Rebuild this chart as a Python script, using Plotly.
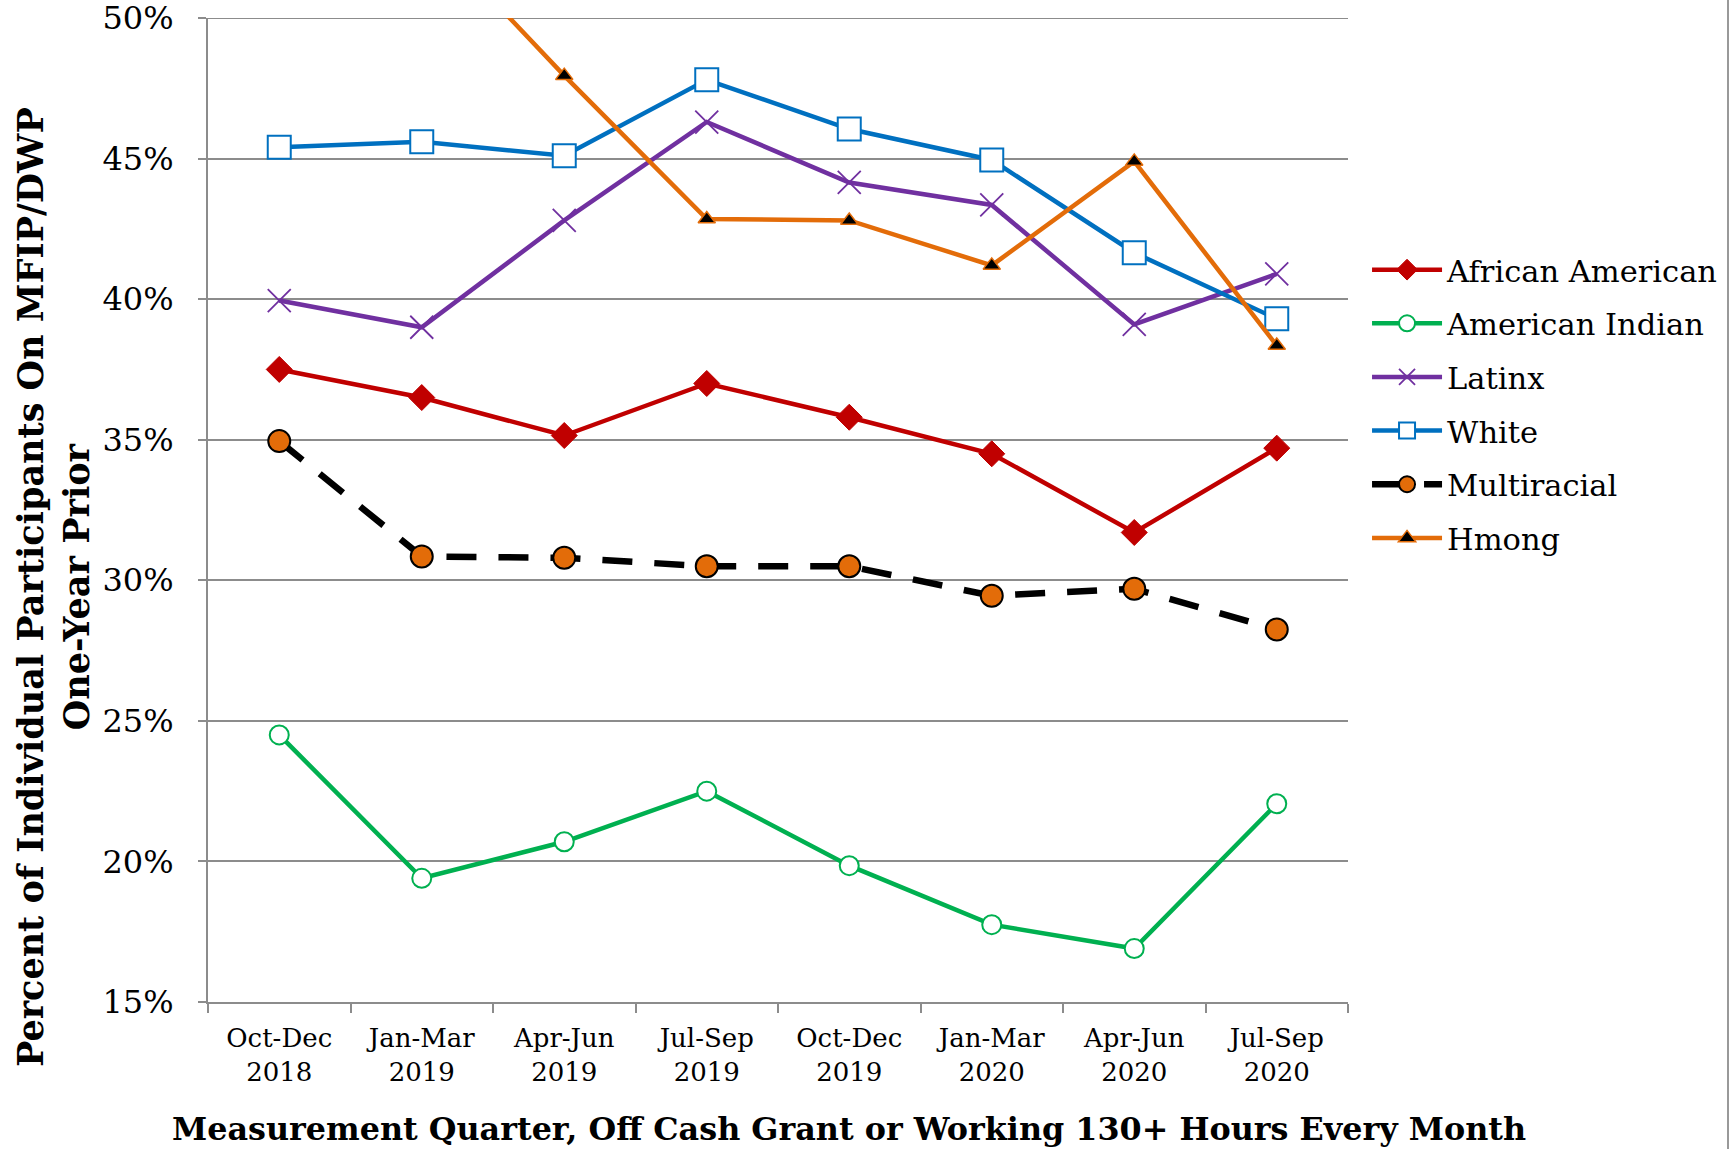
import plotly.graph_objects as go

quarters = ["Oct-Dec<br>2018", "Jan-Mar<br>2019", "Apr-Jun<br>2019", "Jul-Sep<br>2019",
            "Oct-Dec<br>2019", "Jan-Mar<br>2020", "Apr-Jun<br>2020", "Jul-Sep<br>2020"]

african_american = [37.5, 36.5, 35.15, 37.0, 35.8, 34.5, 31.7, 34.7]
american_indian = [24.5, 19.4, 20.7, 22.5, 19.85, 17.75, 16.9, 22.05]
latinx = [39.95, 39.0, 42.8, 46.3, 44.15, 43.35, 39.1, 40.9]
white = [45.4, 45.6, 45.1, 47.8, 46.05, 44.95, 41.65, 39.3]
multiracial = [34.95, 30.85, 30.8, 30.5, 30.5, 29.45, 29.7, 28.25]
hmong = [54.5, 53.3, 47.95, 42.85, 42.8, 41.2, 44.9, 38.35]

FONT = "Georgia, DejaVu Serif, serif"
GRID = "#8c8c8c"

W, H = 1733, 1149
PL, PT, PR, PB = 208, 18, 385, 147
PW, PH = W - PL - PR, H - PT - PB

fig = go.Figure()

def add(name, y, line, marker):
    fig.add_trace(go.Scatter(x=quarters, y=y, name=name, mode="lines+markers",
                             line=line, marker=marker, legendgroup=name))

add("African American", african_american,
    dict(color="#C00000", width=4.5),
    dict(symbol="diamond", size=20, color="#C00000", line=dict(color="#C00000", width=1)))
add("American Indian", american_indian,
    dict(color="#00B050", width=4.5),
    dict(symbol="circle", size=19, color="white", line=dict(color="#00B050", width=2)))
add("Latinx", latinx,
    dict(color="#7030A0", width=4.5),
    dict(symbol="x-thin", size=23, color="#7030A0", line=dict(color="#7030A0", width=1.8)))
add("White", white,
    dict(color="#0070C0", width=4.5),
    dict(symbol="square", size=23, color="white", line=dict(color="#0070C0", width=2)))
add("Multiracial", multiracial,
    dict(color="black", width=6.5, dash="30px,22px"),
    dict(symbol="circle", size=22, color="#E36C09", line=dict(color="black", width=2)))
add("Hmong", hmong,
    dict(color="#E36C09", width=4.5),
    dict(symbol="triangle-up", size=15, color="black", line=dict(color="#E36C09", width=1.5)))

fig.update_layout(
    width=W, height=H,
    margin=dict(l=PL, r=PR, t=PT, b=PB, autoexpand=False),
    paper_bgcolor="white", plot_bgcolor="white",
    font=dict(family=FONT, color="black"),
    showlegend=True,
    legend=dict(x=1.0167, xanchor="left", y=0.771, yanchor="top",
                font=dict(family=FONT, size=30.5, color="black"),
                itemwidth=70,
                tracegroupgap=11, bgcolor="rgba(0,0,0,0)"),
    xaxis=dict(type="category", showgrid=False, showline=True, linecolor=GRID, linewidth=2,
               ticks="outside", tickson="boundaries", ticklen=9, tickcolor=GRID, tickwidth=2,
               tickfont=dict(family=FONT, size=26, color="black"), ticklabelstandoff=12,
               range=[-0.5, 7.5], automargin=False, ticklabeloverflow="allow"),
    yaxis=dict(range=[15, 50], dtick=5, ticksuffix="%", showgrid=True, gridcolor=GRID, gridwidth=2,
               showline=True, linecolor=GRID, linewidth=2, ticks="outside", ticklen=8,
               tickcolor=GRID, tickwidth=2, zeroline=False, automargin=False,
               ticklabeloverflow="allow",
               tickfont=dict(family=FONT, size=32, color="black"), ticklabelstandoff=18),
    annotations=[
        dict(text="Percent of Individual Participants On MFIP/DWP<br>One-Year Prior",
             xref="paper", yref="paper", x=(53 - PL) / PW, y=(H - PB - 587) / PH,
             xanchor="center", yanchor="middle",
             textangle=-90, showarrow=False,
             font=dict(family=FONT, size=35, color="black", weight="bold")),
        dict(text="Measurement Quarter, Off Cash Grant or Working 130+ Hours Every Month",
             xref="paper", yref="paper", x=(849 - PL) / PW, y=(H - PB - 1128) / PH,
             xanchor="center", yanchor="middle",
             showarrow=False,
             font=dict(family=FONT, size=31.8, color="black", weight="bold")),
    ],
    shapes=[
        dict(type="line", xref="paper", yref="y", x0=0, x1=1, y0=50, y1=50, layer="below",
             line=dict(color=GRID, width=2)),
        dict(type="line", xref="paper", yref="paper",
             x0=(1728 - PL) / PW, x1=(1728 - PL) / PW, y0=-0.16, y1=1.02,
             line=dict(color="#999999", width=2)),
    ],
)

fig.write_html("out.html", config={"displayModeBar": False},
               post_script="document.body.style.margin='0px';")
